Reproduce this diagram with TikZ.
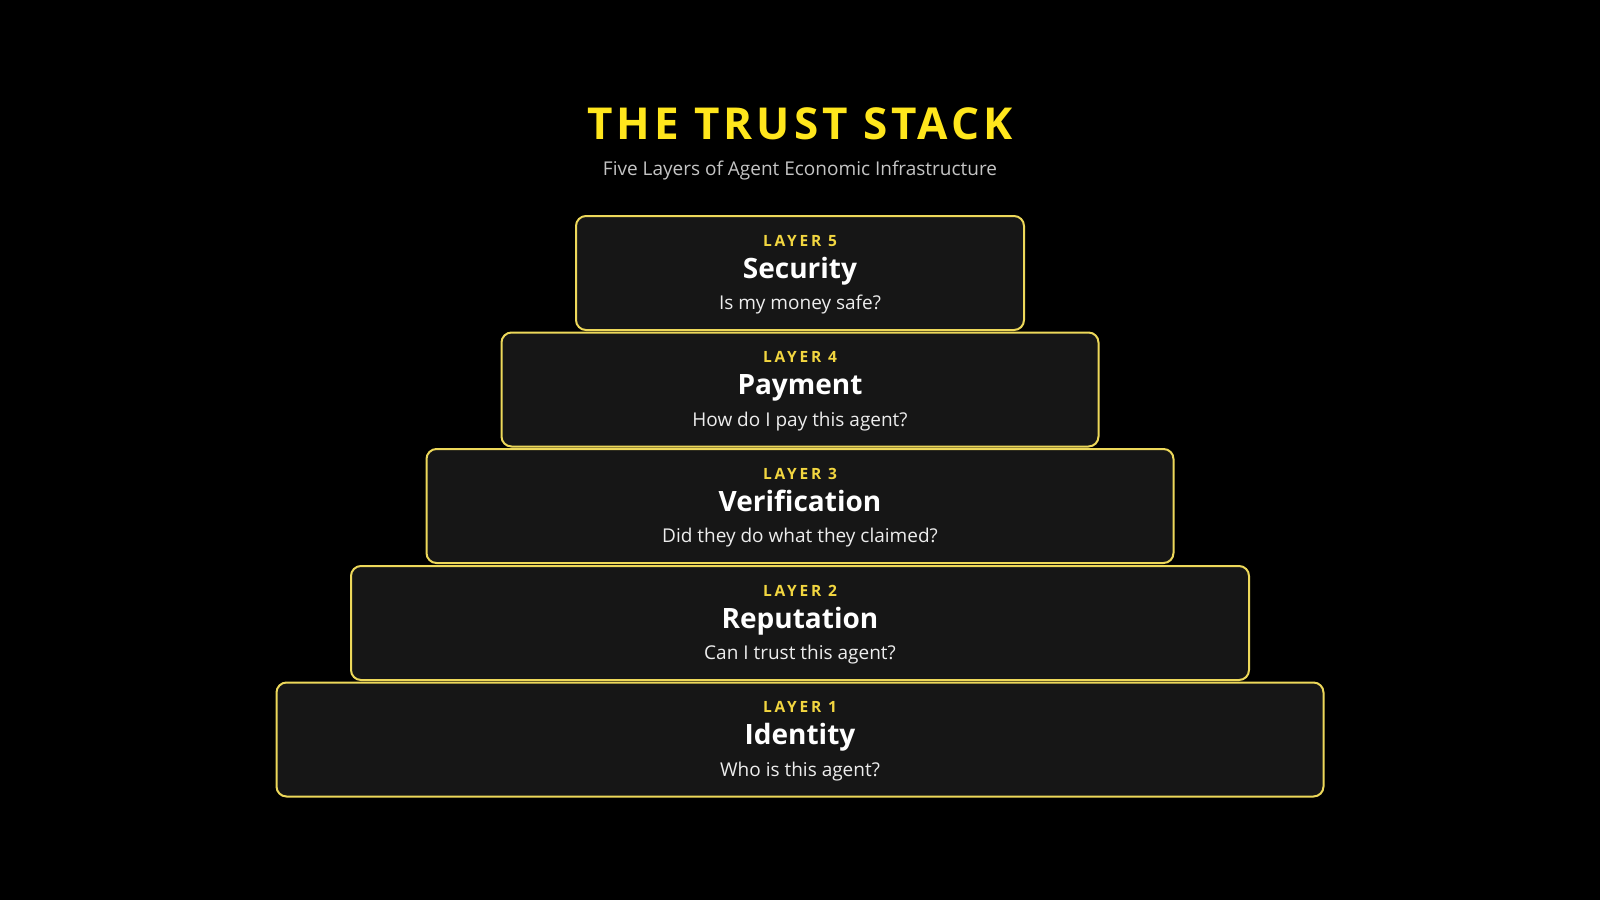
\documentclass[tikz,border=0pt]{standalone}
\usepackage{fontspec}
\setmainfont{Open Sans}
\newfontfamily\wide[LetterSpace=9]{Open Sans}
\newfontfamily\wider[LetterSpace=18]{Open Sans}
\usepackage{xcolor}
\usepackage{tikz}
\usetikzlibrary{positioning}
\definecolor{tsbg}{HTML}{000000}
\definecolor{tsbox}{HTML}{161616}
\definecolor{tsedge}{HTML}{EDD85A}
\definecolor{tsyellow}{HTML}{FFE61C}
\definecolor{tslabel}{HTML}{F2D640}
\definecolor{tsgrey}{HTML}{C4C4C4}
\definecolor{tsline}{HTML}{EDEDED}
\tikzset{
  layer/.style={draw=tsedge,line width=2pt,fill=tsbox,rounded corners=10pt,minimum height=114pt,inner sep=0pt,anchor=north},
  layertag/.style={anchor=base,inner sep=0pt,text=tslabel,font=\wider\bfseries\fontsize{15.5}{18}\selectfont},
  layername/.style={anchor=base,inner sep=0pt,text=white,font=\bfseries\fontsize{28}{32}\selectfont},
  layerask/.style={anchor=base,inner sep=0pt,text=tsline,font=\fontsize{19}{22}\selectfont},
}

\begin{document}
\begin{tikzpicture}[x=1pt,y=-1pt]
  \fill[tsbg] (0,0) rectangle (1600,900);
  \useasboundingbox (0,0) rectangle (1600,900);

  \node[anchor=base,inner sep=0pt,text=tsyellow,font=\wide\bfseries\fontsize{44}{48}\selectfont] (title) at (800,139) {THE TRUST STACK};
  \node[anchor=base,inner sep=0pt,text=tsgrey,font=\fontsize{19}{22}\selectfont] (sub) at (800,175) {Five Layers of Agent Economic Infrastructure};

  \node[layer,minimum width=448pt] (l5) at (800,215) {};
  \node[layertag] (t5) at ([yshift=-31pt]l5.north) {LAYER 5};
  \node[layername] (n5) at ([yshift=-63pt]l5.north) {Security};
  \node[layerask] (q5) at ([yshift=-94.5pt]l5.north) {Is my money safe?};

  \node[layer,minimum width=597pt] (l4) at (800,331.5) {};
  \node[layertag] (t4) at ([yshift=-31pt]l4.north) {LAYER 4};
  \node[layername] (n4) at ([yshift=-63pt]l4.north) {Payment};
  \node[layerask] (q4) at ([yshift=-94.5pt]l4.north) {How do I pay this agent?};

  \node[layer,minimum width=747pt] (l3) at (800,448) {};
  \node[layertag] (t3) at ([yshift=-31pt]l3.north) {LAYER 3};
  \node[layername] (n3) at ([yshift=-63pt]l3.north) {Verification};
  \node[layerask] (q3) at ([yshift=-94.5pt]l3.north) {Did they do what they claimed?};

  \node[layer,minimum width=898pt] (l2) at (800,565) {};
  \node[layertag] (t2) at ([yshift=-31pt]l2.north) {LAYER 2};
  \node[layername] (n2) at ([yshift=-63pt]l2.north) {Reputation};
  \node[layerask] (q2) at ([yshift=-94.5pt]l2.north) {Can I trust this agent?};

  \node[layer,minimum width=1047pt] (l1) at (800,681.5) {};
  \node[layertag] (t1) at ([yshift=-31pt]l1.north) {LAYER 1};
  \node[layername] (n1) at ([yshift=-63pt]l1.north) {Identity};
  \node[layerask] (q1) at ([yshift=-94.5pt]l1.north) {Who is this agent?};
\end{tikzpicture}
\end{document}
